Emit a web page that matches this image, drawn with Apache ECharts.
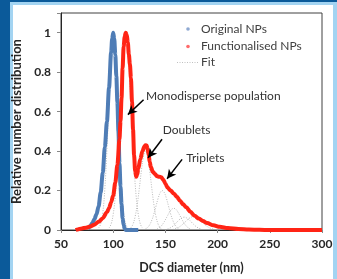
<!DOCTYPE html>
<html>
<head>
<meta charset="utf-8">
<script src="https://cdn.jsdelivr.net/npm/echarts@6/dist/echarts.min.js"></script>
<style>
  html, body { margin: 0; padding: 0; background: #fff; }
  #chart { width: 337px; height: 279px; }
</style>
</head>
<body>
<div id="chart"></div>
<script>
// Original NPs (blue)
const blueX = [76, 78, 80, 82, 84, 86, 88, 90, 92, 94, 96, 98, 99, 100, 101, 102, 103, 104, 105, 106, 107, 108, 109, 110, 111, 112, 124]
const blueY = [0.006, 0.02, 0.035, 0.055, 0.08, 0.12, 0.19, 0.29, 0.42, 0.55, 0.72, 0.9, 0.97, 1.0, 0.97, 0.89, 0.78, 0.65, 0.5, 0.34, 0.22, 0.13, 0.06, 0.025, 0.008, 0, 0]

// Functionalised NPs (red)
const redX = [64, 66, 70, 74, 78, 82, 86, 90, 94, 96, 98, 100, 102, 104, 106, 107, 108, 109, 110, 111, 112, 113, 114, 115, 116, 117, 118, 119, 120, 121, 122, 123, 124, 126, 128, 130, 131, 132, 133, 134, 135, 136, 138, 140, 142, 144, 146, 148, 150, 152, 155, 158, 161, 164, 167, 170, 174, 178, 182, 186, 190, 196, 202, 210, 220, 230, 240, 250, 300]
const redY = [0, 0.003, 0.008, 0.012, 0.018, 0.027, 0.042, 0.06, 0.09, 0.11, 0.14, 0.175, 0.24, 0.33, 0.46, 0.55, 0.67, 0.82, 0.93, 0.98, 1.0, 0.99, 0.95, 0.89, 0.84, 0.77, 0.65, 0.51, 0.38, 0.3, 0.27, 0.28, 0.31, 0.36, 0.4, 0.425, 0.43, 0.428, 0.41, 0.38, 0.345, 0.32, 0.295, 0.284, 0.272, 0.27, 0.268, 0.255, 0.235, 0.215, 0.2, 0.185, 0.168, 0.148, 0.13, 0.115, 0.092, 0.072, 0.058, 0.045, 0.035, 0.024, 0.016, 0.01, 0.005, 0.002, 0.001, 0, 0]

// gaussian fits (dotted)
const fitBlueX = [86, 88, 90, 92, 94, 96, 98, 100, 102, 104, 106, 108, 110, 112, 114]
const fitBlueY = [0.01, 0.03, 0.085, 0.21, 0.41, 0.67, 0.91, 1, 0.91, 0.67, 0.41, 0.21, 0.085, 0.03, 0.01]
const fitMonoX = [96, 98, 100, 102, 104, 106, 108, 110, 112, 114, 116, 118, 120, 122, 124, 126, 128]
const fitMonoY = [0.01, 0.03, 0.08, 0.17, 0.32, 0.53, 0.75, 0.93, 1, 0.93, 0.75, 0.53, 0.32, 0.17, 0.08, 0.03, 0.01]
const fitDoubX = [115, 117, 119, 121, 123, 125, 127, 129, 131, 133, 135, 137, 139, 141, 143, 145, 147]
const fitDoubY = [0.004, 0.012, 0.03, 0.068, 0.128, 0.21, 0.3, 0.372, 0.4, 0.372, 0.3, 0.21, 0.128, 0.068, 0.03, 0.012, 0.004]
const fitTripX = [131, 133, 135, 137, 139, 141, 143, 145, 147, 149, 151, 153, 155, 157, 159, 161, 163]
const fitTripY = [0.006, 0.013, 0.027, 0.05, 0.082, 0.121, 0.16, 0.189, 0.2, 0.189, 0.16, 0.121, 0.082, 0.05, 0.027, 0.013, 0.006]
const fit4X = [142, 144, 146, 148, 150, 152, 154, 156, 158, 160, 162, 164, 166, 168, 170, 172, 174]
const fit4Y = [0.005, 0.011, 0.02, 0.034, 0.052, 0.072, 0.091, 0.105, 0.11, 0.105, 0.091, 0.072, 0.052, 0.034, 0.02, 0.011, 0.005]
const fit5X = [152, 156, 160, 164, 168, 172, 176, 180, 184]
const fit5Y = [0.005, 0.015, 0.034, 0.055, 0.065, 0.055, 0.034, 0.015, 0.005]
const fit6X = [157, 161, 165, 169, 173, 177, 181, 185, 189, 193, 197]
const fit6Y = [0.003, 0.009, 0.022, 0.041, 0.06, 0.068, 0.06, 0.041, 0.022, 0.009, 0.003]

// annotations: text anchor, arrow tail, arrow head (data coords)
const notes = [
  { text: 'Monodisperse population', at: [131.4, 0.681], from: [129.1, 0.66], to: [114.1, 0.585] },
  { text: 'Doublets', at: [147.4, 0.508], from: [146.8, 0.46], to: [133.4, 0.366] },
  { text: 'Triplets', at: [169.9, 0.363], from: [166, 0.358], to: [151.6, 0.26] }
]

const FONT = 'Lato'
const zip = (xs, ys) => xs.map((x, i) => [x, ys[i]])

const fits = [
  [fitBlueX, fitBlueY], [fitMonoX, fitMonoY], [fitDoubX, fitDoubY],
  [fitTripX, fitTripY], [fit4X, fit4Y], [fit5X, fit5Y], [fit6X, fit6Y]
]

const fitSeries = fits.map(([xs, ys]) => ({
  type: 'line',
  data: zip(xs, ys),
  smooth: 0.4,
  showSymbol: false,
  lineStyle: { color: '#a6a6a6', width: 0.8, type: [1, 1.5] },
  z: 1,
  silent: true
}))

const chart = echarts.init(document.getElementById('chart'))

chart.setOption({
  animation: false,
  backgroundColor: '#fff',
  textStyle: { fontFamily: FONT },
  grid: { left: 61, right: 15, top: 13, bottom: 41, show: true, borderColor: '#404040', borderWidth: 1 },
  xAxis: {
    type: 'value', min: 50, max: 300, interval: 50,
    name: 'DCS diameter (nm)', nameLocation: 'middle', nameGap: 31,
    nameTextStyle: { fontFamily: FONT, fontWeight: 'bold', fontSize: 12.5, color: '#262626' },
    axisLine: { lineStyle: { color: '#262626' } },
    axisTick: { show: true, length: 3, lineStyle: { color: '#888' } },
    axisLabel: { fontFamily: FONT, fontWeight: 'bold', fontSize: 12, color: '#262626', margin: 8 },
    splitLine: { show: false }
  },
  yAxis: {
    type: 'value', min: 0, max: 1.1, interval: 0.2,
    name: 'Relative number distribution', nameLocation: 'middle', nameGap: 31,
    nameTextStyle: { fontFamily: FONT, fontWeight: 'bold', fontSize: 13, color: '#262626' },
    axisLine: { show: true, lineStyle: { color: '#262626' } },
    axisTick: { show: true, length: 4, lineStyle: { color: '#888' } },
    axisLabel: {
      fontFamily: FONT, fontWeight: 'bold', fontSize: 12, color: '#262626', margin: 10,
      formatter: v => (v > 1.05 ? '' : String(Math.round(v * 10) / 10))
    },
    splitLine: { show: false }
  },
  graphic: [
    // page frame
    { type: 'rect', shape: { x: 0, y: 0, width: 337, height: 5 }, style: { fill: '#a3d4f2' }, z: -10 },
    { type: 'rect', shape: { x: 0, y: 0, width: 13, height: 279 }, style: { fill: '#a3d4f2' }, z: -10 },
    { type: 'rect', shape: { x: 333, y: 0, width: 4, height: 279 }, style: { fill: '#a3d4f2' }, z: -10 },
    { type: 'rect', shape: { x: 0, y: 0, width: 337, height: 2 }, style: { fill: '#0b5a9a' }, z: -9 },
    { type: 'rect', shape: { x: 0, y: 0, width: 10, height: 279 }, style: { fill: '#0b5a9a' }, z: -9 },
    // legend
    { type: 'circle', shape: { cx: 188, cy: 29, r: 1.8 }, style: { fill: '#8fa9d2' } },
    { type: 'text', x: 201, y: 29, style: { text: 'Original NPs', font: '12px Lato', fill: '#404040', verticalAlign: 'middle' } },
    { type: 'circle', shape: { cx: 188, cy: 46.5, r: 1.8 }, style: { fill: '#ff6b6b' } },
    { type: 'text', x: 201, y: 46.5, style: { text: 'Functionalised NPs', font: '12px Lato', fill: '#404040', verticalAlign: 'middle' } },
    { type: 'line', shape: { x1: 177, y1: 62.5, x2: 198, y2: 62.5 }, style: { stroke: '#b0b0b0', lineWidth: 0.8, lineDash: [1, 1.5] } },
    { type: 'text', x: 201, y: 62.5, style: { text: 'Fit', font: '12px Lato', fill: '#404040', verticalAlign: 'middle' } }
  ],
  series: [
    ...fitSeries,
    {
      name: 'Original NPs',
      type: 'line',
      data: zip(blueX, blueY),
      smooth: 0.3,
      smoothMonotone: 'x',
      showSymbol: false,
      lineStyle: { color: '#4f7db6', width: 4 },
      z: 3
    },
    {
      name: 'Functionalised NPs',
      type: 'line',
      data: zip(redX, redY),
      smooth: 0.3,
      smoothMonotone: 'x',
      showSymbol: false,
      lineStyle: { color: '#ff2415', width: 4 },
      z: 4,
      markLine: {
        silent: true,
        symbol: ['none', 'arrow'],
        symbolSize: [7, 9],
        label: { show: false },
        lineStyle: { color: '#000', width: 1.5, type: 'solid' },
        data: notes.map(n => [{ coord: n.from }, { coord: n.to }])
      },
      markPoint: {
        silent: true,
        symbol: 'circle',
        symbolSize: 0,
        data: notes.map(n => ({
          coord: n.at,
          label: {
            show: true, position: 'right', distance: 0, formatter: n.text,
            fontFamily: FONT, fontSize: 12, color: '#333'
          }
        }))
      }
    }
  ]
})
</script>
</body>
</html>
